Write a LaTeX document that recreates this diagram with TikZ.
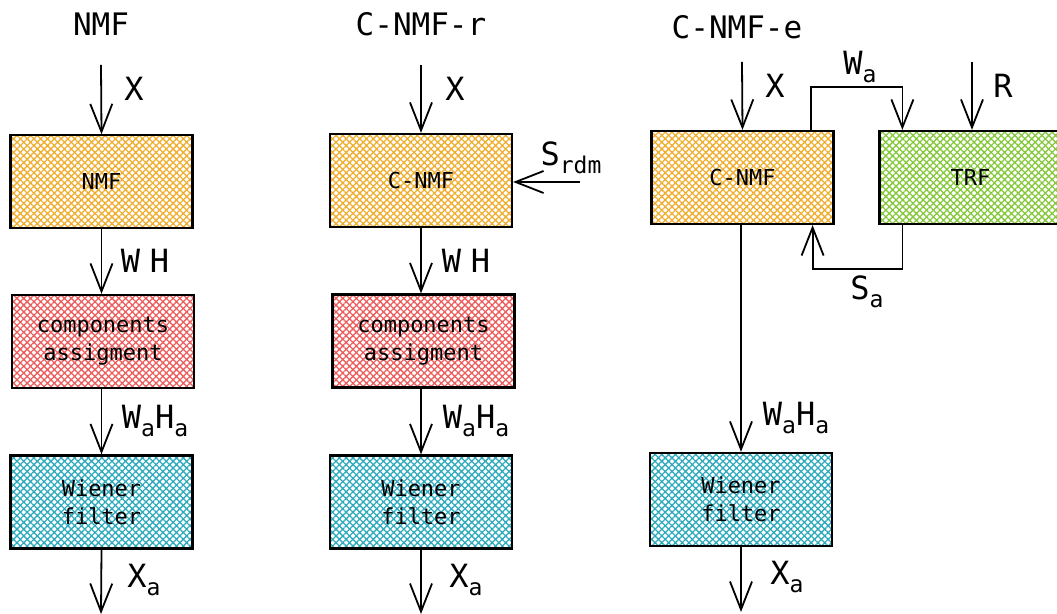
\documentclass[tikz,border=0pt]{standalone}
\usepackage{fontspec}
\setmainfont{DejaVu Sans Mono}
\setmonofont{DejaVu Sans Mono}
\usepackage{graphicx}
\usepackage{xcolor}
\usetikzlibrary{arrows.meta,patterns.meta}

\definecolor{nmforange}{HTML}{F0AE30}
\definecolor{assignred}{HTML}{EC5E5E}
\definecolor{wienercyan}{HTML}{2FAABD}
\definecolor{trfgreen}{HTML}{86C83C}

\newcommand{\lowsub}[1]{\raisebox{-0.45ex}{\scalebox{0.72}{#1}}}

\tikzset{
  block/.style={draw=black, line width=1.1pt, minimum width=91pt, minimum height=46.5pt,
    inner sep=0pt, align=center, font=\fontsize{11}{14}\selectfont},
  hatch/.style={pattern={Hatch[angle=45,distance=2.4pt,line width=0.65pt]}, pattern color=#1},
  flow/.style={-{Straight Barb[length=14pt,width=11pt]}, line width=0.9pt},
  lbl/.style={font=\fontsize{16}{18}\selectfont},
  heading/.style={font=\fontsize{15.5}{18}\selectfont}
}

\begin{document}
\begin{tikzpicture}[x=0.5pt,y=-0.5pt]
  \useasboundingbox (0,0) rectangle (1057,614);
  % NMF
  \node[heading] (titleA) at (101,24) {NMF};
  \node[block, hatch=nmforange] (nmfA) at (101.5,181.5) {NMF};
  \node[block, hatch=assignred] (compA) at (103,341.5) {components\\assigment};
  \node[block, hatch=wienercyan] (wienerA) at (101.5,502) {Wiener\\filter};
  \coordinate (inA) at (101,65);
  \coordinate (outA) at (101,614);
  \draw[flow] (inA) -- (nmfA.north);
  \draw[flow] (nmfA.south) -- (compA.north -| nmfA.south);
  \draw[flow] (compA.south -| wienerA.north) -- (wienerA.north);
  \draw[flow] (wienerA.south) -- (outA);
  \node[lbl] (xA) at (134,89) {X};
  \node[lbl] (whA) at (145,261) {W\hspace{0.3em}H};
  \node[lbl] (wahaA) at (155,421) {W\lowsub{a}H\lowsub{a}};
  \node[lbl] (xaA) at (144,580) {X\lowsub{a}};
  % C-NMF-r
  \node[heading] (titleB) at (421,24) {C-NMF-r};
  \node[block, hatch=nmforange] (cnmfB) at (421,180.5) {C-NMF};
  \node[block, hatch=assignred] (compB) at (423.5,341) {components\\assigment};
  \node[block, hatch=wienercyan] (wienerB) at (421,502) {Wiener\\filter};
  \coordinate (inB) at (421,65);
  \coordinate (outB) at (421,614);
  \coordinate (srdm) at (580,182);
  \draw[flow] (inB) -- (cnmfB.north);
  \draw[flow] (cnmfB.south) -- (compB.north -| cnmfB.south);
  \draw[flow] (compB.south -| wienerB.north) -- (wienerB.north);
  \draw[flow] (wienerB.south) -- (outB);
  \draw[flow] (srdm) -- (srdm -| cnmfB.east);
  \node[lbl] (xB) at (455,89) {X};
  \node[lbl] (whB) at (466,261) {W\hspace{0.3em}H};
  \node[lbl] (wahaB) at (476,421) {W\lowsub{a}H\lowsub{a}};
  \node[lbl] (xaB) at (466,580) {X\lowsub{a}};
  \node[lbl] (srdmB) at (571,158) {S\lowsub{rdm}};
  % C-NMF-e
  \node[heading] (titleC) at (737,27) {C-NMF-e};
  \node[block, hatch=nmforange] (cnmfC) at (742.5,177.5) {C-NMF};
  \node[block, hatch=trfgreen] (trf) at (970.5,177.5) {TRF};
  \node[block, hatch=wienercyan] (wienerC) at (741,499.5) {Wiener\\filter};
  \coordinate (inC) at (742,62);
  \coordinate (inR) at (972,62);
  \coordinate (outC) at (741,612);
  \draw[flow] (inC) -- (cnmfC.north);
  \draw[flow] (inR) -- (inR |- trf.north);
  \draw[flow] (cnmfC.south -| wienerC.north) -- (wienerC.north);
  \draw[flow] (wienerC.south) -- (outC);
  \draw[flow] ([xshift=-12pt]cnmfC.north east) -- ++(0,-43) -| ([xshift=12pt]trf.north west);
  \draw[flow] ([xshift=12pt]trf.south west) -- ++(0,44) -| ([xshift=-11pt]cnmfC.south east);
  \node[lbl] (xC) at (775,86) {X};
  \node[lbl] (waC) at (860,67) {W\lowsub{a}};
  \node[lbl] (rC) at (1003,86) {R};
  \node[lbl] (saC) at (867,292) {S\lowsub{a}};
  \node[lbl] (wahaC) at (796,418) {W\lowsub{a}H\lowsub{a}};
  \node[lbl] (xaC) at (787,577) {X\lowsub{a}};
\end{tikzpicture}
\end{document}
